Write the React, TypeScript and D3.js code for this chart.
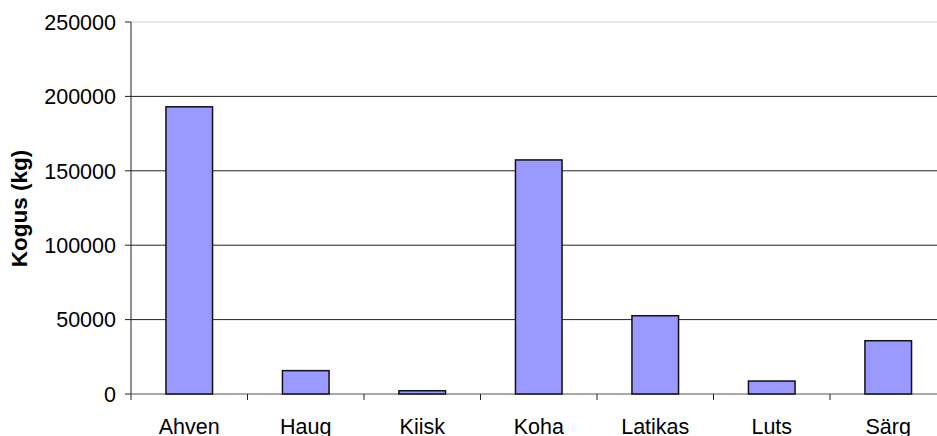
import * as d3 from 'd3';

const categories = ['Ahven', 'Haug', 'Kiisk', 'Koha', 'Latikas', 'Luts', 'Särg'];
const catchKg = [193000, 15700, 2200, 157300, 52600, 8700, 35800];
const yTicks = [0, 50000, 100000, 150000, 200000, 250000];
const yTitle = 'Kogus (kg)';

const W = 937;
const H = 436;
const left = 131;
const right = 946.5;
const top = 22;
const bottom = 394;
const font = '"Liberation Sans", Arial, sans-serif';

export default function App() {
  const y = d3.scaleLinear().domain([0, 250000]).range([bottom, top]);
  const outer = d3.scaleBand<string>().domain(categories).range([left, right]);
  const x = d3.scaleBand<string>().domain(categories).range([left, right]).paddingInner(0.6).paddingOuter(0.3);

  return (
    <div style={{ position: 'fixed', left: 0, top: 0, width: W, height: H, background: '#fff' }}>
      <svg width={W} height={H} style={{ display: 'block' }} fontFamily={font}>
        {yTicks.map((t) => (
          <g key={t}>
            {t > 0 && (
              <line x1={left} x2={W} y1={y(t)} y2={y(t)}
                stroke={t === 250000 ? '#cfcfcf' : '#222'} strokeWidth={1} />
            )}
            <line x1={left - 6} x2={left} y1={y(t)} y2={y(t)} stroke="#222" />
            <text x={116} y={y(t)} dy="0.36em" textAnchor="end" fontSize={21.5} fill="#000">{t}</text>
          </g>
        ))}
        <line x1={left} x2={left} y1={top} y2={bottom + 6} stroke="#222" />
        <line x1={left} x2={W} y1={bottom} y2={bottom} stroke="#555" />
        {categories.map((c, i) => (
          <g key={c}>
            {i > 0 && <line x1={outer(c)} x2={outer(c)} y1={bottom} y2={bottom + 6} stroke="#222" />}
            <rect x={x(c)} y={y(catchKg[i])} width={x.bandwidth()} height={bottom - y(catchKg[i])}
              fill="#9999ff" stroke="#111" strokeWidth={1.5} />
            <text x={(x(c) ?? 0) + x.bandwidth() / 2} y={434} textAnchor="middle" fontSize={21.5} fill="#000">{c}</text>
          </g>
        ))}
        <text transform="translate(27,208.5) rotate(-90)" textAnchor="middle"
          fontSize={22.5} fontWeight="bold" fill="#000">{yTitle}</text>
      </svg>
    </div>
  );
}
